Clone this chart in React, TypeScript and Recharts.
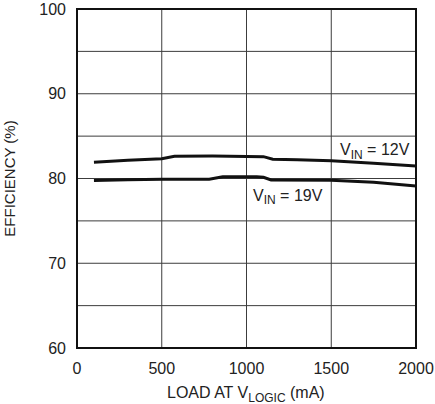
import React from "react";
import {
  LineChart,
  Line,
  XAxis,
  YAxis,
  CartesianGrid,
  ReferenceArea,
} from "recharts";

const xTicks = [0, 500, 1000, 1500, 2000];
const yTicks = [60, 70, 80, 90, 100];
const gridY = [60, 65, 70, 75, 80, 85, 90, 95, 100];

const load12 = [100, 300, 500, 575, 800, 1100, 1155, 1300, 1500, 1750, 2000];
const eff12 = [81.93, 82.15, 82.32, 82.62, 82.65, 82.58, 82.28, 82.2, 82.1, 81.8, 81.46];

const load19 = [100, 300, 500, 780, 860, 1060, 1100, 1145, 1500, 1750, 2000];
const eff19 = [79.75, 79.85, 79.9, 79.92, 80.2, 80.22, 80.15, 79.82, 79.8, 79.55, 79.1];

const data12 = load12.map((x, i) => ({ x, y: eff12[i] }));
const data19 = load19.map((x, i) => ({ x, y: eff19[i] }));

const FONT = '"Liberation Sans", Arial, sans-serif';
const W = 435;
const H = 404;

export default function App() {
  return (
    <div style={{ position: "absolute", left: 0, top: 0, width: W, height: H }}>
      <LineChart
        width={W}
        height={H}
        margin={{ top: 9, right: 19, bottom: 0, left: 0 }}
        style={{ fontFamily: FONT }}
      >
        <CartesianGrid
          stroke="#3c3c3c"
          strokeWidth={1}
          horizontalValues={gridY}
          verticalValues={xTicks}
        />
        <XAxis
          type="number"
          dataKey="x"
          domain={[0, 2000]}
          ticks={xTicks}
          allowDataOverflow
          height={56}
          axisLine={false}
          tickLine={false}
          tickSize={0}
          tickMargin={15}
          tick={{ fontSize: 16, fill: "#222", fontFamily: FONT }}
        />
        <YAxis
          type="number"
          domain={[60, 100]}
          ticks={yTicks}
          allowDataOverflow
          width={77}
          axisLine={false}
          tickLine={false}
          tickSize={0}
          tickMargin={11}
          tick={{ fontSize: 16, fill: "#222", fontFamily: FONT }}
        />
        <ReferenceArea
          x1={0}
          x2={2000}
          y1={60}
          y2={100}
          fill="none"
          fillOpacity={0}
          stroke="#111"
          strokeWidth={2}
          ifOverflow="visible"
        />
        <Line
          data={data12}
          dataKey="y"
          type="linear"
          stroke="#111"
          strokeWidth={3}
          dot={false}
          isAnimationActive={false}
        />
        <Line
          data={data19}
          dataKey="y"
          type="linear"
          stroke="#111"
          strokeWidth={3}
          dot={false}
          isAnimationActive={false}
        />
      </LineChart>
      <svg
        width={W}
        height={H}
        style={{ position: "absolute", left: 0, top: 0, pointerEvents: "none" }}
      >
        <text
          x={15}
          y={178.5}
          transform="rotate(-90, 15, 178.5)"
          textAnchor="middle"
          fontSize={15}
          fill="#222"
          fontFamily={FONT}
        >
          EFFICIENCY (%)
        </text>
        <text x={167} y={397.5} fontSize={16} fill="#222" fontFamily={FONT}>
          LOAD AT V
          <tspan fontSize={12} dy={4}>LOGIC</tspan>
          <tspan fontSize={16} dy={-4}> (mA)</tspan>
        </text>
        <text x={340} y={155} fontSize={16} fill="#222" fontFamily={FONT}>
          V
          <tspan fontSize={12} dy={3.5}>IN</tspan>
          <tspan fontSize={16} dy={-3.5}> = 12V</tspan>
        </text>
        <text x={253} y={200.5} fontSize={16} fill="#222" fontFamily={FONT}>
          V
          <tspan fontSize={12} dy={3.5}>IN</tspan>
          <tspan fontSize={16} dy={-3.5}> = 19V</tspan>
        </text>
      </svg>
    </div>
  );
}
